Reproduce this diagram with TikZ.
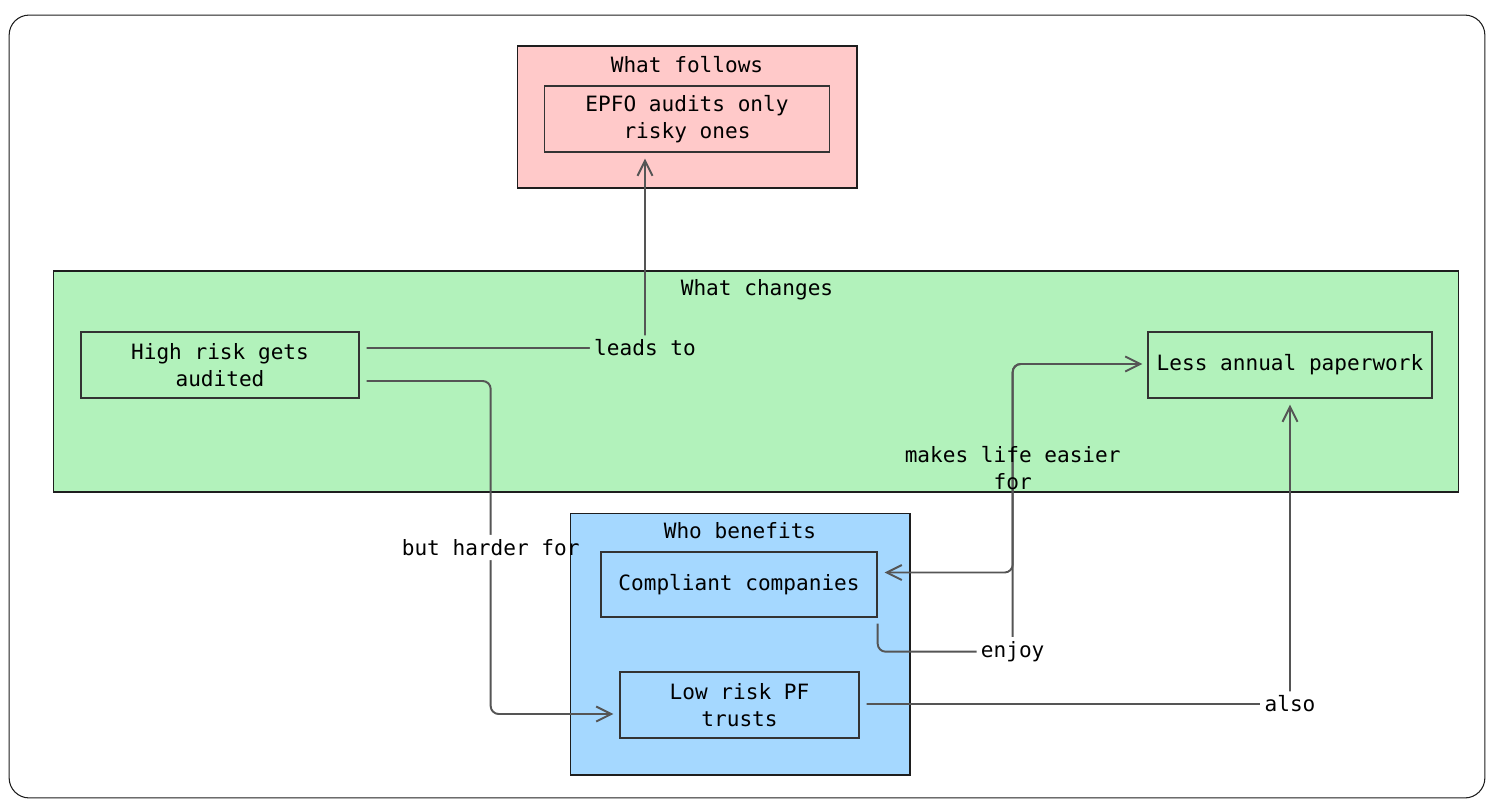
\documentclass[tikz,border=0pt]{standalone}
\usepackage{fontspec}
\setmonofont{DejaVu Sans Mono}
\usepackage{tikz}
\usetikzlibrary{arrows.meta,positioning,calc}
\definecolor{followsfill}{HTML}{FFC9C9}
\definecolor{changesfill}{HTML}{B2F2BB}
\definecolor{benefitsfill}{HTML}{A5D8FF}
\definecolor{inkline}{HTML}{1E1E1E}
\definecolor{edgeline}{HTML}{555555}

\begin{document}
\begin{tikzpicture}[
  x=0.02cm, y=-0.02cm,
  font=\ttfamily\fontsize{12}{15.3}\selectfont,
  frame/.style={rectangle, draw=inkline, line width=0.6pt, rounded corners=0.4cm, fill=white},
  cluster/.style={rectangle, draw=inkline, line width=0.6pt, inner sep=0pt},
  box/.style={rectangle, draw=black!80, line width=0.8pt, align=center, minimum height=1.32cm, inner sep=0pt},
  edge/.style={-{Straight Barb[length=0.3cm,width=0.3cm]}, draw=edgeline, line width=1.1pt, rounded corners=0.16cm},
  lbl/.style={inner sep=2.5pt, align=center}
]
\useasboundingbox (0,0) rectangle (1493,811);
\node[frame, minimum width=29.52cm, minimum height=15.66cm] (outer) at (747,406.5) {};
% Groups: what follows / what changes / who benefits
\node[cluster, fill=followsfill, minimum width=6.8cm, minimum height=2.84cm] (follows) at (687,117) {};
\node[cluster, fill=changesfill, minimum width=28.12cm, minimum height=4.42cm] (changes) at (756,381.5) {};
\node[cluster, fill=benefitsfill, minimum width=6.8cm, minimum height=5.24cm] (benefits) at (740,644) {};
\node (followsT) at (687,65) {What follows};
\node (changesT) at (757,290) {What changes};
\node (benefitsT) at (740,531) {Who benefits};
% Boxes
\node[box, minimum width=5.7cm] (epfo) at (687,119) {EPFO audits only\\risky ones};
\node[box, minimum width=5.56cm] (high) at (220,365) {High risk gets\\audited};
\node[box, minimum width=5.68cm] (less) at (1290,365) {Less annual paperwork};
\node[box, minimum width=5.52cm, minimum height=1.3cm] (comp) at (739,584.5) {Compliant companies};
\node[box, minimum width=4.78cm] (low) at (739.5,705) {Low risk PF\\trusts};
\coordinate (lessIn) at ($(less.west)+(-5,-1)$);
% Connectors
\draw[edge] ($(high.east)+(7,-17)$) -| ($(epfo.south)+(-42,6)$)
  node[pos=0.5, lbl, fill=changesfill] (leadsL) {leads to};
\draw[edge] ($(high.east)+(7,16)$) -- ++(124,0) |- ($(low.west)+(-6,9)$)
  node[pos=0.25, lbl, path picture={\fill[white] (path picture bounding box.south west)
    rectangle (benefits.west |- path picture bounding box.north);}] (harderL) {but harder for};
\draw[edge] ($(comp.south east)+(0,6)$) -- ++(0,28) -- ++(135,0)
  node[lbl, fill=white] (enjoyL) {enjoy} |- (lessIn);
\draw[edge] ($(lessIn)+(-5,0)$) -- (lessIn -| enjoyL) |- ($(comp.east)+(7,-12)$)
  node[pos=0.25, lbl] (easierL) {makes life easier\\for};
\draw[edge] ($(low.east)+(7,-1)$) -| ($(less.south)+(0,6)$)
  node[pos=0.5, lbl, fill=white] (alsoL) {also};
\end{tikzpicture}
\end{document}
